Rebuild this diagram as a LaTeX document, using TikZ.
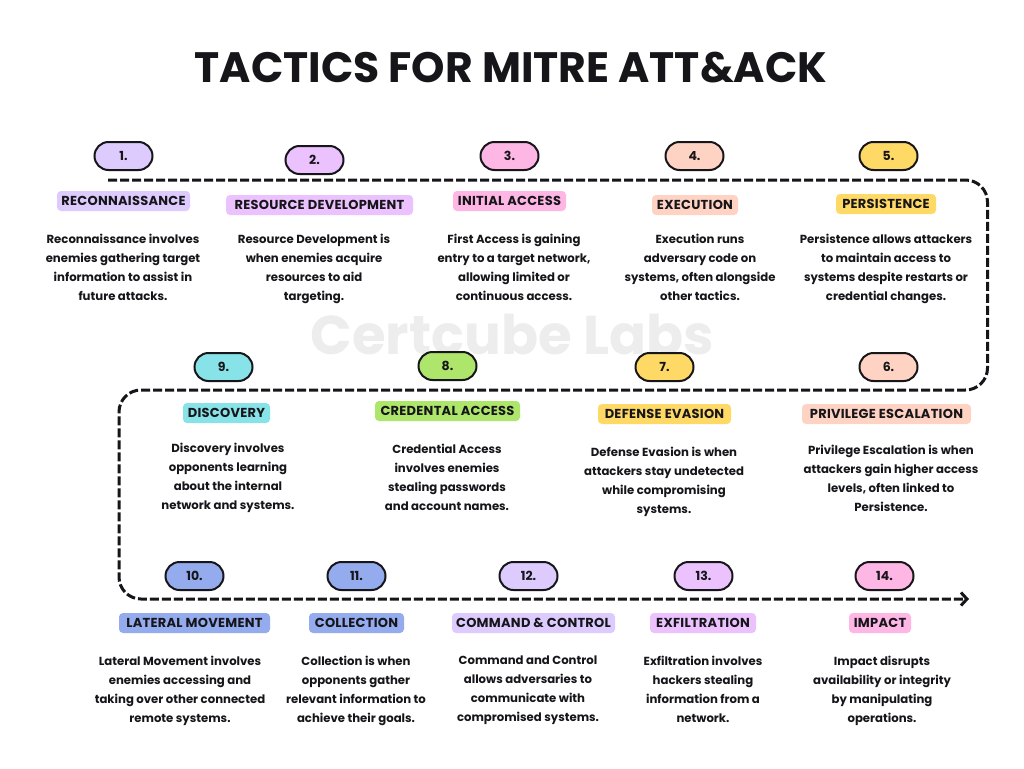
\documentclass[tikz,border=0pt]{standalone}
\usepackage{fontspec}
\usepackage{xcolor}
\usepackage{tikz}
\usetikzlibrary{arrows.meta}
\setmainfont{Poppins}
\definecolor{ink}{HTML}{16161A}
\definecolor{lilac}{HTML}{DDCBFE}
\definecolor{mauve}{HTML}{EBC2FE}
\definecolor{rose}{HTML}{FEB6E4}
\definecolor{peach}{HTML}{FFD3C3}
\definecolor{honey}{HTML}{FFD966}
\definecolor{leaf}{HTML}{AEE56B}
\definecolor{aqua}{HTML}{88E3E8}
\definecolor{periw}{HTML}{94ABEE}
\definecolor{mark}{HTML}{EDEDED}

\begin{document}
\begin{tikzpicture}[x=1pt, y=-1pt]
		\tikzstyle{pill}=[draw=ink, line width=2pt, rounded corners=14pt, minimum width=58pt, minimum height=28pt, inner sep=0pt, text=ink, font=\fontsize{12.5}{14}\selectfont\bfseries]
		\tikzstyle{tag}=[rounded corners=4pt, minimum height=20pt, inner sep=0pt, text=ink, font=\addfontfeatures{LetterSpace=2}\fontsize{13}{14}\selectfont\bfseries]
		\tikzstyle{txt}=[align=center, inner sep=0pt, yshift=-3pt, text=ink, font=\fontsize{11.7}{19}\selectfont\bfseries, execute at begin node=\strut, execute at end node=\strut]
		\tikzstyle{fleche}=[draw=ink, line width=3pt, dash pattern=on 9pt off 3pt, rounded corners=22pt]
		\useasboundingbox (0,0) rectangle (1024,768);
		\fill[white] (0,0) rectangle (1024,768);

		\node[text=mark, font=\fontsize{54.6}{60}\selectfont\bfseries] (watermark) at (512.5,335) {Certcube Labs};
		\node[text=ink, font=\fontsize{42.5}{50}\selectfont\bfseries] (title) at (511,68) {TACTICS FOR MITRE ATT\&ACK};

		% the path
		\coordinate (start) at (108,180);
		\coordinate (right1) at (987.5,180);
		\coordinate (right2) at (987.5,390);
		\coordinate (left1) at (119,390);
		\coordinate (left2) at (119,599);
		\coordinate (stop) at (966,599);
		\coordinate (tip) at (969,599);
		\draw[fleche] (start) -- (right1) -- (right2) -- (left1) -- (left2) -- (stop);
		\draw[draw=ink, line width=3pt, -{Straight Barb[length=6pt,width=13pt]}] (stop) -- (tip);

		% first row
		\node[pill, fill=lilac] (num1) at (123.5,156) {1.};
		\node[tag, fill=lilac, minimum width=133pt] (tag1) at (123.5,201) {RECONNAISSANCE};
		\node[txt] (txt1) at (123,267) {Reconnaissance involves\\enemies gathering target\\information to assist in\\future attacks.};

		\node[pill, fill=mauve] (num2) at (314.5,160) {2.};
		\node[tag, fill=mauve, minimum width=187pt] (tag2) at (319.5,205) {RESOURCE DEVELOPMENT};
		\node[txt] (txt2) at (314,267) {Resource Development is\\when enemies acquire\\resources to aid\\targeting.};

		\node[pill, fill=rose] (num3) at (509.5,156) {3.};
		\node[tag, fill=rose, minimum width=113pt] (tag3) at (509.5,201) {INITIAL ACCESS};
		\node[txt] (txt3) at (514,267) {First Access is gaining\\entry to a target network,\\allowing limited or\\continuous access.};

		\node[pill, fill=peach] (num4) at (694.5,156) {4.};
		\node[tag, fill=peach, minimum width=86pt] (tag4) at (695,205) {EXECUTION};
		\node[txt] (txt4) at (700,267) {Execution runs\\adversary code on\\systems, often alongside\\other tactics.};

		\node[pill, fill=honey] (num5) at (888.5,156) {5.};
		\node[tag, fill=honey, minimum width=100pt] (tag5) at (886,204) {PERSISTENCE};
		\node[txt] (txt5) at (886,267) {Persistence allows attackers\\to maintain access to\\systems despite restarts or\\credential changes.};

		% second row
		\node[pill, fill=peach] (num6) at (888.5,367) {6.};
		\node[tag, fill=peach, minimum width=169pt] (tag6) at (886.5,414) {PRIVILEGE ESCALATION};
		\node[txt] (txt6) at (891,478) {Privilege Escalation is when\\attackers gain higher access\\levels, often linked to\\Persistence.};

		\node[pill, fill=honey] (num7) at (664.5,367) {7.};
		\node[tag, fill=honey, minimum width=133pt] (tag7) at (664.5,414) {DEFENSE EVASION};
		\node[txt] (txt7) at (664,480) {Defense Evasion is when\\attackers stay undetected\\while compromising\\systems.};

		\node[pill, fill=leaf] (num8) at (447.5,366) {8.};
		\node[tag, fill=leaf, minimum width=145pt] (tag8) at (447.5,411) {CREDENTAL ACCESS};
		\node[txt] (txt8) at (447,477) {Credential Access\\involves enemies\\stealing passwords\\and account names.};

		\node[pill, fill=aqua] (num9) at (223.5,367) {9.};
		\node[tag, fill=aqua, minimum width=87pt] (tag9) at (226.5,413) {DISCOVERY};
		\node[txt] (txt9) at (228,476) {Discovery involves\\opponents learning\\about the internal\\network and systems.};

		% third row
		\node[pill, fill=periw] (num10) at (194.5,576) {10.};
		\node[tag, fill=periw, minimum width=151pt] (tag10) at (194.5,623) {LATERAL MOVEMENT};
		\node[txt] (txt10) at (180,689) {Lateral Movement involves\\enemies accessing and\\taking over other connected\\remote systems.};

		\node[pill, fill=periw] (num11) at (356.5,576) {11.};
		\node[tag, fill=periw, minimum width=95pt] (tag11) at (356.5,623) {COLLECTION};
		\node[txt] (txt11) at (356,689) {Collection is when\\opponents gather\\relevant information to\\achieve their goals.};

		\node[pill, fill=lilac] (num12) at (528.5,576) {12.};
		\node[tag, fill=lilac, minimum width=163pt] (tag12) at (533.5,623) {COMMAND \& CONTROL};
		\node[txt] (txt12) at (528,689) {Command and Control\\allows adversaries to\\communicate with\\compromised systems.};

		\node[pill, fill=mauve] (num13) at (703.5,576) {13.};
		\node[tag, fill=mauve, minimum width=106pt] (tag13) at (703,623) {EXFILTRATION};
		\node[txt] (txt13) at (703,689) {Exfiltration involves\\hackers stealing\\information from a\\network.};

		\node[pill, fill=rose] (num14) at (884.5,576) {14.};
		\node[tag, fill=rose, minimum width=62pt] (tag14) at (880,623) {IMPACT};
		\node[txt] (txt14) at (882,689) {Impact disrupts\\availability or integrity\\by manipulating\\operations.};
	\end{tikzpicture}
\end{document}
